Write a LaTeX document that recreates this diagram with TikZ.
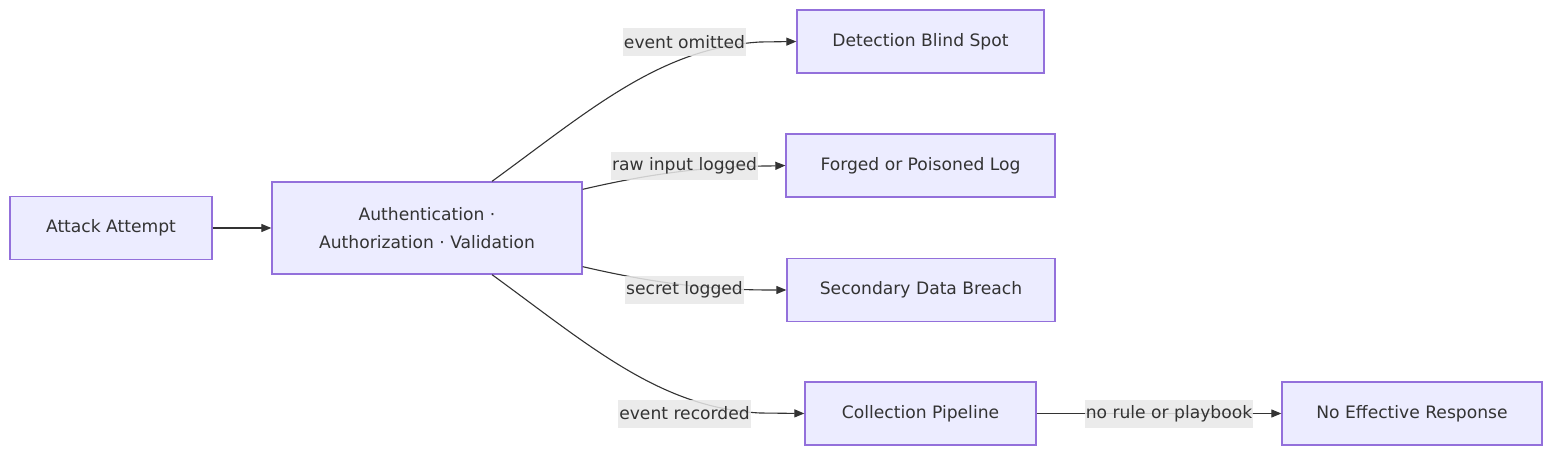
\documentclass[tikz,border=0pt]{standalone}
\usepackage{fontspec}
\setmainfont{DejaVu Sans}
\usepackage{tikz}
\usetikzlibrary{arrows.meta,positioning,calc}
\definecolor{mmfill}{HTML}{ECECFF}
\definecolor{mmline}{HTML}{9370DB}
\definecolor{mmtext}{HTML}{333333}
\definecolor{mmlabel}{HTML}{E8E8E8}
\tikzset{
  stagebox/.style={draw=mmline, fill=mmfill, line width=1.3bp, minimum height=63bp, text=mmtext, font=\fontsize{17.2}{28}\selectfont, align=center, inner sep=0pt},
  edgelabel/.style={fill=mmlabel, fill opacity=0.85, text opacity=1, text=mmtext, font=\fontsize{17.2}{20}\selectfont, inner xsep=1bp, minimum height=28bp},
  flow/.style={draw=mmtext, line width=1.1bp, -{Triangle[length=10bp,width=8bp]}},
}
\begin{document}
\begin{tikzpicture}[x=1bp, y=-1bp]
  \useasboundingbox (0,0) rectangle (1568,462);

  % Left: attack and controls
  \node[stagebox, minimum width=202bp] (attack) at (111,228) {Attack Attempt};
  \node[stagebox, minimum width=310bp, minimum height=92bp] (auth) at (427,228) {Authentication ·\\Authorization · Validation};

  % Outcomes
  \node[stagebox, minimum width=247bp] (blind) at (920.5,41.5) {Detection Blind Spot};
  \node[stagebox, minimum width=269bp] (forged) at (920.5,165.5) {Forged or Poisoned Log};
  \node[stagebox, minimum width=268bp] (breach) at (921,290) {Secondary Data Breach};
  \node[stagebox, minimum width=231bp] (pipeline) at (920.5,413.5) {Collection Pipeline};
  \node[stagebox, minimum width=260bp] (noresp) at (1412,413.5) {No Effective Response};

  % Arrows
  \draw[flow] (attack) -- (auth);
  \draw[flow] ($(auth.north)+(65,0)$) .. controls (590,110) and (660,48) .. (760,42) -- (blind.west);
  \draw[flow] ($(auth.north east)+(0,8)$) .. controls (640,176) and (700,166) .. (770,166) -- (forged.west);
  \draw[flow] ($(auth.south east)+(0,-8)$) .. controls (640,280) and (700,290) .. (770,290) -- (breach.west);
  \draw[flow] ($(auth.south)+(65,0)$) .. controls (590,346) and (660,408) .. (760,413) -- (pipeline.west);
  \draw[flow] (pipeline) -- (noresp);

  % Edge labels
  \node[edgelabel] (omitted) at (684.5,42) {event omitted};
  \node[edgelabel] (raw) at (684.5,166) {raw input logged};
  \node[edgelabel] (secret) at (684.5,290) {secret logged};
  \node[edgelabel] (recorded) at (684.5,413.5) {event recorded};
  \node[edgelabel] (norule) at (1169,414) {no rule or playbook};
\end{tikzpicture}
\end{document}
